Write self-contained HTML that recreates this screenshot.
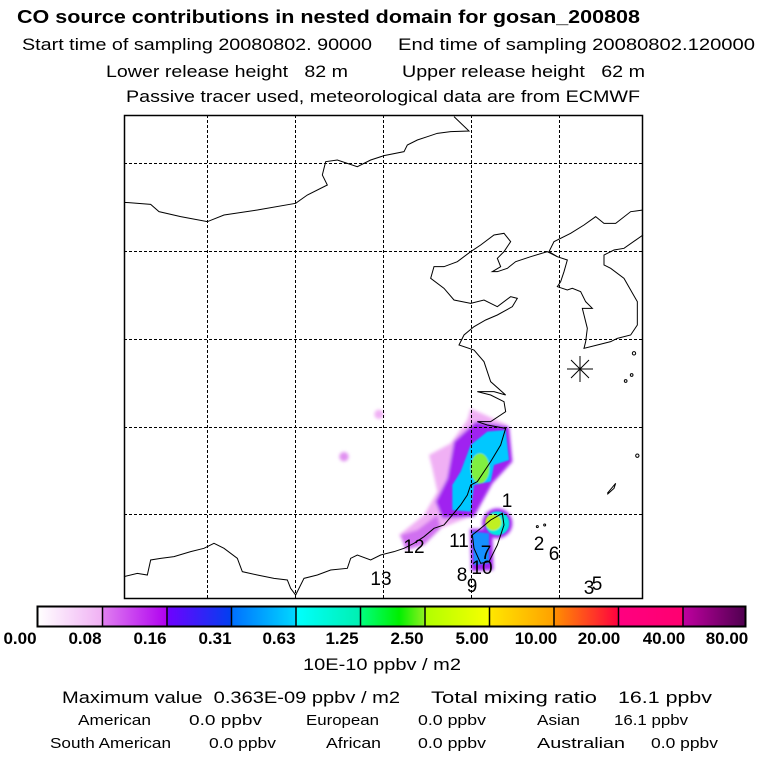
<!DOCTYPE html>
<html><head><meta charset="utf-8"><style>
body{margin:0;background:#fff;width:768px;height:768px;overflow:hidden;font-family:"Liberation Sans",Arial,sans-serif}
</style></head><body>
<svg width="768" height="768" viewBox="0 0 768 768" xmlns="http://www.w3.org/2000/svg" font-family="Liberation Sans, Arial, sans-serif">
<defs>
<filter id="b1" x="-20%" y="-20%" width="140%" height="140%"><feGaussianBlur stdDeviation="5"/></filter>
<filter id="b2" x="-20%" y="-20%" width="140%" height="140%"><feGaussianBlur stdDeviation="2.5"/></filter>
</defs>
<g lengthAdjust="spacingAndGlyphs">
<text x="17" y="23" font-size="18" font-weight="bold" textLength="623" lengthAdjust="spacingAndGlyphs">CO  source contributions in nested domain for gosan_200808</text>
<text x="22" y="50" font-size="17" textLength="350" lengthAdjust="spacingAndGlyphs">Start time of sampling 20080802. 90000</text>
<text x="398" y="50" font-size="17" textLength="357" lengthAdjust="spacingAndGlyphs">End time of sampling 20080802.120000</text>
<text x="106" y="77" font-size="17" textLength="242" lengthAdjust="spacingAndGlyphs" xml:space="preserve">Lower release height   82 m</text>
<text x="402" y="77" font-size="17" textLength="243" lengthAdjust="spacingAndGlyphs" xml:space="preserve">Upper release height   62 m</text>
<text x="126" y="102" font-size="17" textLength="514" lengthAdjust="spacingAndGlyphs">Passive tracer used, meteorological data are from ECMWF</text>
</g>

<g transform="translate(124,115) scale(0.33333)">
<g filter="url(#b1)">
<polygon fill="#f0b0f4" points="1040,880 1150,930 1165,1040 1100,1110 1050,1200 950,1240 850,1300 825,1260 900,1200 940,1130 925,1060 915,1020 980,985 1030,915"/>
<polygon fill="#a020f0" points="1055,920 1155,935 1165,1040 1105,1105 1050,1205 955,1210 935,1160 970,1090 990,980"/>
<polygon fill="#a020f0" points="1038,1242 1105,1242 1108,1365 1042,1368"/>
<circle cx="1120" cy="1225" r="45" fill="#a020f0"/>
<circle cx="765" cy="898" r="14" fill="#f0b0f4"/>
<circle cx="660" cy="1025" r="14" fill="#e090f0"/>
<polygon fill="#d070f0" points="830,1260 880,1245 940,1200 950,1240 900,1290 845,1305"/>
</g>
<g filter="url(#b2)">
<polygon fill="#00c8ff" points="1090,950 1145,945 1155,1035 1110,1050 1100,1100 1050,1110 1040,1190 985,1185 985,1110 1010,1070 1040,990"/>
<polygon fill="#1890ff" points="1045,1250 1095,1255 1095,1345 1050,1350"/>
<circle cx="1120" cy="1225" r="36" fill="#00e8e0"/>
<ellipse cx="1068" cy="1060" rx="28" ry="45" fill="#80f040"/>
<circle cx="1108" cy="1222" r="24" fill="#c0f020"/>
</g>
<g fill="none" stroke="#000" stroke-width="3">
<polyline points="0,262 80,268 105,290 170,305 250,320 300,300 400,285 515,265 550,240 610,210 595,180 605,140 640,135 700,155 740,135 780,122 840,110 850,90 880,75 910,65 940,55 980,50 1035,48 990,5"/>
<polyline points="1557,285 1520,290 1475,325 1440,325 1415,305 1380,330 1340,355 1290,380 1275,410 1300,425 1330,435 1320,470 1310,500 1300,515 1330,525 1345,520 1370,530 1385,560 1405,580 1375,580 1380,600 1390,640 1385,680 1380,700 1420,690 1460,680 1480,670 1520,660 1540,630 1540,560 1500,490 1460,460 1440,450 1440,420 1470,405 1500,400 1557,360"/>
<polyline points="1300,425 1270,410 1220,425 1175,440 1150,460 1120,470 1105,470 1130,455 1120,430 1140,410 1160,380 1140,355 1110,360 1070,390 1040,410 1000,440 960,455 930,455 920,490 960,520 990,555 1040,565 1080,555 1120,575 1160,545 1180,550 1165,575 1120,600 1085,615 1050,635 1020,660 1005,690 1050,705 1080,740 1100,800 1145,840 1110,830 1060,830 1100,840 1140,860 1145,890 1100,920 1060,920 1090,930 1145,940 1130,990 1100,1040 1060,1100 1040,1110 1030,1140 1010,1170 985,1200 960,1230 930,1240 900,1265 870,1285 840,1300 810,1310 770,1320 740,1335 700,1320 680,1330 670,1360 620,1365 580,1380 540,1390 515,1440 500,1420 490,1395 450,1390 400,1380 355,1370 340,1330 300,1300 270,1285 240,1300 200,1310 150,1325 110,1330 80,1335 70,1380 40,1375 0,1385"/>
<polygon points="1135,1195 1140,1230 1120,1290 1095,1340 1070,1345 1050,1300 1045,1260 1070,1240 1100,1215"/>
<polyline points="1450,1135 1475,1105 1470,1120 1450,1138"/>
<circle cx="1530" cy="715" r="5"/><circle cx="1505" cy="798" r="4"/><circle cx="1523" cy="780" r="4"/><circle cx="1540" cy="1022" r="5"/><circle cx="1240" cy="1235" r="3"/><circle cx="1262" cy="1230" r="3"/>
</g>
</g>
<g stroke="#000" stroke-width="1" stroke-dasharray="3,2">
<line x1="207.5" y1="115" x2="207.5" y2="598"/><line x1="295.5" y1="115" x2="295.5" y2="598"/><line x1="383.5" y1="115" x2="383.5" y2="598"/><line x1="471.5" y1="115" x2="471.5" y2="598"/><line x1="559.5" y1="115" x2="559.5" y2="598"/>
<line x1="124" y1="163.5" x2="643" y2="163.5"/><line x1="124" y1="251.5" x2="643" y2="251.5"/><line x1="124" y1="339.5" x2="643" y2="339.5"/><line x1="124" y1="427.5" x2="643" y2="427.5"/><line x1="124" y1="514.5" x2="643" y2="514.5"/>
</g>
<rect x="124.5" y="115.5" width="518" height="483" fill="none" stroke="#000" stroke-width="1.5"/>
<g stroke="#000" stroke-width="1"><line x1="567" y1="369" x2="593" y2="369"/><line x1="580" y1="356" x2="580" y2="382"/><line x1="571" y1="360" x2="589" y2="378"/><line x1="571" y1="378" x2="589" y2="360"/></g>
<g font-size="19" text-anchor="middle">
<text x="507" y="507">1</text><text x="539" y="550">2</text><text x="554" y="560">6</text><text x="459" y="547">11</text><text x="414" y="553">12</text><text x="486" y="559">7</text><text x="482" y="574">10</text><text x="462" y="581">8</text><text x="472" y="592">9</text><text x="381" y="585">13</text><text x="589" y="594">3</text><text x="597" y="590">5</text>
</g>
<g>
<defs>
<linearGradient id="g0"><stop offset="0" stop-color="#fff"/><stop offset="1" stop-color="#f0b0f4"/></linearGradient>
<linearGradient id="g1"><stop offset="0" stop-color="#e080f0"/><stop offset="1" stop-color="#b000f0"/></linearGradient>
<linearGradient id="g2"><stop offset="0" stop-color="#7000ff"/><stop offset="1" stop-color="#0040f0"/></linearGradient>
<linearGradient id="g3"><stop offset="0" stop-color="#0070ff"/><stop offset="1" stop-color="#00d8ff"/></linearGradient>
<linearGradient id="g4"><stop offset="0" stop-color="#00ffff"/><stop offset="1" stop-color="#00f0b0"/></linearGradient>
<linearGradient id="g5"><stop offset="0" stop-color="#00ff80"/><stop offset="0.6" stop-color="#00f000"/><stop offset="1" stop-color="#90f020"/></linearGradient>
<linearGradient id="g6"><stop offset="0" stop-color="#b0ff00"/><stop offset="1" stop-color="#f8ff00"/></linearGradient>
<linearGradient id="g7"><stop offset="0" stop-color="#ffe800"/><stop offset="1" stop-color="#ffa000"/></linearGradient>
<linearGradient id="g8"><stop offset="0" stop-color="#ff9000"/><stop offset="1" stop-color="#ff0040"/></linearGradient>
<linearGradient id="g9"><stop offset="0" stop-color="#ff0080"/><stop offset="1" stop-color="#ff0070"/></linearGradient>
<linearGradient id="g10"><stop offset="0" stop-color="#c000a0"/><stop offset="1" stop-color="#500050"/></linearGradient>
</defs>
<rect x="38" y="607" width="64.5" height="19" fill="url(#g0)"/>
<rect x="102.5" y="607" width="64.5" height="19" fill="url(#g1)"/>
<rect x="167" y="607" width="64.5" height="19" fill="url(#g2)"/>
<rect x="231.5" y="607" width="64.5" height="19" fill="url(#g3)"/>
<rect x="296" y="607" width="64.5" height="19" fill="url(#g4)"/>
<rect x="360.5" y="607" width="64.5" height="19" fill="url(#g5)"/>
<rect x="425" y="607" width="64.5" height="19" fill="url(#g6)"/>
<rect x="489.5" y="607" width="64.5" height="19" fill="url(#g7)"/>
<rect x="554" y="607" width="64.5" height="19" fill="url(#g8)"/>
<rect x="618.5" y="607" width="64.5" height="19" fill="url(#g9)"/>
<rect x="683" y="607" width="62" height="19" fill="url(#g10)"/>
<g stroke="#000" stroke-width="1.5"><line x1="102.5" y1="607" x2="102.5" y2="626"/><line x1="167" y1="607" x2="167" y2="626"/><line x1="231.5" y1="607" x2="231.5" y2="626"/><line x1="296" y1="607" x2="296" y2="626"/><line x1="360.5" y1="607" x2="360.5" y2="626"/><line x1="425" y1="607" x2="425" y2="626"/><line x1="489.5" y1="607" x2="489.5" y2="626"/><line x1="554" y1="607" x2="554" y2="626"/><line x1="618.5" y1="607" x2="618.5" y2="626"/><line x1="683" y1="607" x2="683" y2="626"/></g>
<rect x="37.5" y="606.5" width="708" height="20" fill="none" stroke="#000" stroke-width="2"/>
</g>
<g font-size="17" font-weight="bold" text-anchor="middle">
<text x="20" y="644">0.00</text><text x="85" y="644">0.08</text><text x="150" y="644">0.16</text><text x="215" y="644">0.31</text><text x="279" y="644">0.63</text><text x="342" y="644">1.25</text><text x="407" y="644">2.50</text><text x="472" y="644">5.00</text><text x="536" y="644">10.00</text><text x="599" y="644">20.00</text><text x="664" y="644">40.00</text><text x="727" y="644">80.00</text>
</g>
<text x="303" y="670" font-size="17" textLength="158" lengthAdjust="spacingAndGlyphs">10E-10 ppbv / m2</text>
<text x="62" y="703" font-size="17" textLength="338" lengthAdjust="spacingAndGlyphs" xml:space="preserve">Maximum value  0.363E-09 ppbv / m2</text>
<text x="431" y="703" font-size="17" textLength="166" lengthAdjust="spacingAndGlyphs">Total mixing ratio</text>
<text x="618" y="703" font-size="17" textLength="94" lengthAdjust="spacingAndGlyphs">16.1 ppbv</text>
<g font-size="15" lengthAdjust="spacingAndGlyphs">
<text x="78" y="725" textLength="73" lengthAdjust="spacingAndGlyphs">American</text><text x="189" y="725" textLength="73" lengthAdjust="spacingAndGlyphs">0.0 ppbv</text><text x="306" y="725" textLength="73" lengthAdjust="spacingAndGlyphs">European</text><text x="418" y="725" textLength="68" lengthAdjust="spacingAndGlyphs">0.0 ppbv</text><text x="537" y="725" textLength="43" lengthAdjust="spacingAndGlyphs">Asian</text><text x="614" y="725" textLength="74" lengthAdjust="spacingAndGlyphs">16.1 ppbv</text>
<text x="50" y="748" textLength="121" lengthAdjust="spacingAndGlyphs">South American</text><text x="209" y="748" textLength="67" lengthAdjust="spacingAndGlyphs">0.0 ppbv</text><text x="326" y="748" textLength="55" lengthAdjust="spacingAndGlyphs">African</text><text x="418" y="748" textLength="68" lengthAdjust="spacingAndGlyphs">0.0 ppbv</text><text x="537" y="748" textLength="88" lengthAdjust="spacingAndGlyphs">Australian</text><text x="651" y="748" textLength="67" lengthAdjust="spacingAndGlyphs">0.0 ppbv</text>
</g>
</svg>
</body></html>
